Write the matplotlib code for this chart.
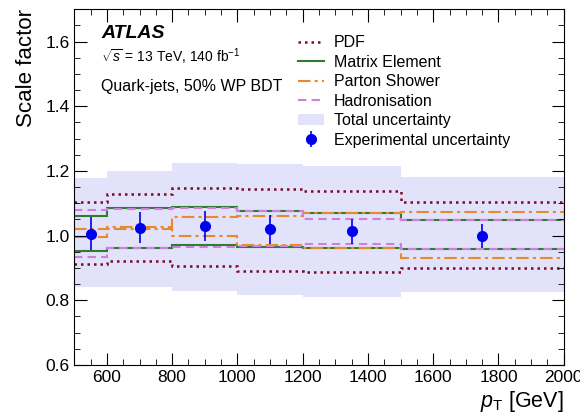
import numpy as np
import matplotlib.pyplot as plt
from matplotlib.patches import Patch
from matplotlib.lines import Line2D
from matplotlib.ticker import MultipleLocator

plt.rcParams['font.family'] = ['Liberation Sans', 'DejaVu Sans']
plt.rcParams['mathtext.fontset'] = 'custom'
plt.rcParams['mathtext.rm'] = 'Liberation Sans'
plt.rcParams['mathtext.it'] = 'Liberation Sans:italic'

# pT bin edges [GeV] and bin centres
edges = [500, 600, 800, 1000, 1200, 1500, 2000]
centres = [550, 700, 900, 1100, 1350, 1750]

# scale factors with experimental uncertainty
sf = [1.006, 1.024, 1.029, 1.019, 1.013, 1.000]
sf_err = [0.050, 0.048, 0.047, 0.045, 0.038, 0.037]

# total uncertainty band
tot_up = [1.177, 1.200, 1.225, 1.220, 1.215, 1.180]
tot_dn = [0.840, 0.840, 0.830, 0.817, 0.810, 0.827]

# modelling variations (up / down)
pdf_up = [1.103, 1.127, 1.148, 1.143, 1.138, 1.105]
pdf_dn = [0.913, 0.920, 0.907, 0.891, 0.886, 0.900]
me_up = [1.060, 1.086, 1.087, 1.075, 1.070, 1.047]
me_dn = [0.953, 0.962, 0.971, 0.964, 0.960, 0.959]
ps_up = [1.019, 1.027, 1.058, 1.062, 1.070, 1.074]
ps_dn = [0.995, 1.019, 0.998, 0.972, 0.960, 0.930]
had_up = [1.079, 1.083, 1.085, 1.075, 1.052, 1.047]
had_dn = [0.934, 0.960, 0.966, 0.969, 0.975, 0.959]

c_pdf = '#7a0a28'
c_me = '#2e7d32'
c_ps = '#e8892b'
c_had = '#cf7fdc'
c_band = '#e2e2fa'
c_data = '#0000f0'

ls_pdf = (0, (1, 1.6))
ls_ps = (0, (6, 2, 1.5, 2))
ls_had = (0, (4, 2.5))

fig, ax = plt.subplots(figsize=(5.8, 4.18), dpi=100)
fig.subplots_adjust(left=0.128, right=0.972, top=0.978, bottom=0.127)

ax.stairs(tot_up, edges, baseline=tot_dn, fill=True, color=c_band, lw=0)

ax.stairs(pdf_up, edges, baseline=None, color=c_pdf, ls=ls_pdf, lw=1.8)
ax.stairs(pdf_dn, edges, baseline=None, color=c_pdf, ls=ls_pdf, lw=1.8)
ax.stairs(me_up, edges, baseline=None, color=c_me, ls='-', lw=1.5)
ax.stairs(me_dn, edges, baseline=None, color=c_me, ls='-', lw=1.5)
ax.stairs(ps_up, edges, baseline=None, color=c_ps, ls=ls_ps, lw=1.5)
ax.stairs(ps_dn, edges, baseline=None, color=c_ps, ls=ls_ps, lw=1.5)
ax.stairs(had_up, edges, baseline=None, color=c_had, ls=ls_had, lw=1.5)
ax.stairs(had_dn, edges, baseline=None, color=c_had, ls=ls_had, lw=1.5)

data = ax.errorbar(centres, sf, yerr=sf_err, fmt='o', color=c_data, ms=7,
                   elinewidth=1.2, capsize=0)

ax.set_xlim(500, 2000)
ax.set_ylim(0.6, 1.7)
ax.xaxis.set_major_locator(MultipleLocator(200))
ax.xaxis.set_minor_locator(MultipleLocator(50))
ax.yaxis.set_major_locator(MultipleLocator(0.2))
ax.yaxis.set_minor_locator(MultipleLocator(0.05))
ax.tick_params(which='both', direction='in', top=True, right=True, labelsize=12.5)
ax.tick_params(which='major', length=9)
ax.tick_params(which='minor', length=4.5)
ax.set_yticks([0.6, 0.8, 1.0, 1.2, 1.4, 1.6])
ax.set_yticklabels(['0.6', '0.8', '1.0', '1.2', '1.4', '1.6'])

ax.set_ylabel('Scale factor', fontsize=16, loc='top', labelpad=6)
ax.set_xlabel(r'$p_{\mathrm{T}}$ [GeV]', fontsize=15.5, loc='right', labelpad=3)

ax.text(0.055, 0.955, 'ATLAS', transform=ax.transAxes, fontsize=14,
        fontweight='bold', fontstyle='italic', va='top')
ax.text(0.055, 0.895, r'$\sqrt{s}$ = 13 TeV, 140 fb$^{-1}$', transform=ax.transAxes,
        fontsize=10, va='top')
ax.text(0.055, 0.805, 'Quark-jets, 50% WP BDT', transform=ax.transAxes,
        fontsize=11.5, va='top')

handles = [
    Line2D([], [], color=c_pdf, ls=ls_pdf, lw=1.8),
    Line2D([], [], color=c_me, ls='-', lw=1.5),
    Line2D([], [], color=c_ps, ls=ls_ps, lw=1.5),
    Line2D([], [], color=c_had, ls=ls_had, lw=1.5),
    Patch(facecolor=c_band, edgecolor='none'),
    data,
]
labels = ['PDF', 'Matrix Element', 'Parton Shower', 'Hadronisation',
          'Total uncertainty', 'Experimental uncertainty']
ax.legend(handles, labels, loc='upper left', bbox_to_anchor=(0.445, 0.945),
          frameon=False, fontsize=11.5, handlelength=1.6, labelspacing=0.28,
          handletextpad=0.6, borderaxespad=0)

fig.savefig('out.png')
